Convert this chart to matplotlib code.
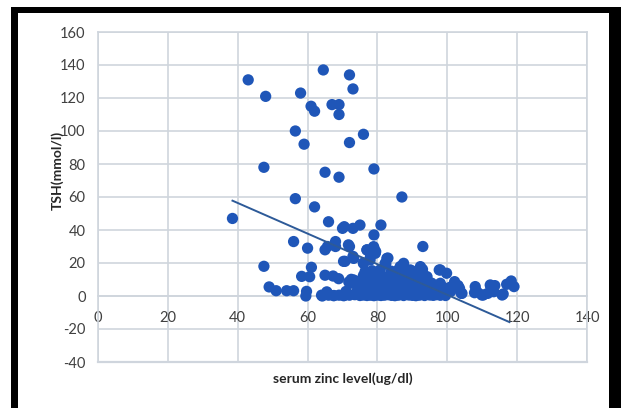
import matplotlib
matplotlib.use("Agg")
import matplotlib.pyplot as plt
from matplotlib.patches import Rectangle
import numpy as np

# ---- data (serum zinc level ug/dl, TSH mmol/l) ----
zinc_sparse = [43, 48, 47.5, 38.5, 47.5, 49, 64.5, 72, 73, 58, 61, 62, 67, 69, 69,
               56.5, 59, 76, 72, 65, 69, 79, 87, 56.5, 62, 66, 70, 70.5, 73, 75,
               81, 79, 56, 60, 65, 65.7, 68, 68, 72, 77, 79, 79.5, 93, 73, 70.3,
               70.7, 78, 76, 83, 82.4, 85.8, 87.4, 91.4, 92.9, 97.7, 99.8, 61.1,
               60.6, 58.3, 65, 67.3, 68.9, 72.5, 71.8, 51, 54, 56, 59.7, 59.5,
               64.2, 65.7, 67.5, 70.3]
tsh_sparse = [131, 121, 78, 47, 18, 5.5, 137, 134, 125.5, 123, 115, 112, 116, 116, 110,
              100, 92, 98, 93, 75, 72, 77, 60, 59, 54, 45, 41, 42, 41, 43,
              43, 37, 33, 29, 28, 30, 33, 30, 30, 28, 29, 27, 30, 24, 21,
              21, 24, 20, 23, 19.4, 15.4, 18.8, 15.2, 16.2, 15.8, 13.8, 17.4,
              11.7, 11.9, 12.6, 12.1, 10.5, 10.1, 8.5, 3.2, 3.2, 3.2, 2.8, 0,
              0, 1.6, 0.2, 0.2]

zinc_dense = [64, 66, 67.5, 69, 70.5, 72, 73.5, 75, 76, 77, 78, 79, 80, 81, 82, 83, 84, 85,
              86, 87.5, 89, 90, 91, 92, 93.5, 95, 96, 97, 98, 99.5,
              65.5, 71, 74, 75.5, 77.5, 79, 80.5, 82, 83.5, 85, 87, 88.5, 90, 91.5, 93,
              95, 96.5, 98.5, 100, 101,
              74.5, 76, 77.5, 78.5, 80, 81.5, 83, 84.5, 86, 88, 89.5, 91, 92.5, 94, 96,
              97.5, 99, 101,
              75, 76.5, 78, 79.5, 81, 82.5, 84, 86.5, 88, 90, 92, 94, 95.5, 98,
              75.5, 77, 79, 80.5, 82, 84, 87, 89, 91.5, 93,
              76, 78, 80, 81, 83.5, 86, 89.5, 92, 94.2,
              76.5, 78.5, 80.8, 84, 88, 90, 93,
              71.7, 77, 78.9, 79.4, 73.2, 76, 77.9, 82.7, 82.2, 87.5, 86.5, 89.4, 92.3,
              72.2, 73.2, 98, 94.2, 96.1, 99.9]
tsh_dense = [0.5, 0.5, 0.3, 0.5, 0.3, 0.5, 0.8, 0.3, 0.6, 0.3, 0.5, 0.2, 0.6, 0.3, 0.5, 0.8, 0.4, 0.2,
             0.5, 0.3, 0.6, 0.4, 0.2, 0.5, 0.3, 0.6, 0.4, 0.8, 0.6, 0.3,
             2.5, 2.8, 2.5, 3, 2.6, 3, 2.5, 2.8, 3, 2.6, 2.5, 3, 2.7, 2.5, 3,
             2.6, 2.8, 2.5, 2.6, 2.8,
             5, 5.2, 4.8, 5.5, 5, 5.3, 4.8, 5.2, 5, 5.5, 4.8, 5.2, 5, 5.3, 4.8,
             5.2, 5, 5.5,
             7.5, 7.8, 7.3, 7.6, 7.5, 7.8, 7.4, 7.6, 7.5, 7.3, 7.7, 7.5, 7.8, 7.7,
             10, 10.3, 9.8, 10.2, 10, 10.3, 9.8, 10.2, 10, 10.3,
             12.5, 12.8, 12.3, 12.6, 12.5, 12.8, 12.4, 12.6, 11.7,
             15, 15.3, 15.8, 15, 15.3, 15, 13.8,
             31, 27.9, 29.9, 25.9, 22.8, 19.8, 21.8, 22.8, 19.8, 19.8, 17.8, 15.8, 17.8,
             7.7, 9.7, 15.8, 3.6, 5.6, 2.6]

zinc_high = [103.5, 104, 102.1, 103.1, 108, 107.8, 110.3, 112.4, 113.6, 113.3, 111.6,
             116, 117, 118.3, 119.1, 102.8, 104.2, 98, 99.9, 109.9, 112.3, 115.7, 108.5]
tsh_high = [4.7, 1.6, 8.7, 6.3, 5.7, 2, 0.6, 6.1, 6.3, 2.6, 1.6,
            1.2, 7.1, 9.1, 5.7, 5.6, 1.6, 0.6, 2.6, 0.6, 6.7, 0.6, 2.6]

# linear trend line (slope, intercept) as shown in the chart
trend_slope = -0.928
trend_intercept = 93.5

x_ticks = [0, 20, 40, 60, 80, 100, 120, 140]
y_ticks = [-40, -20, 0, 20, 40, 60, 80, 100, 120, 140, 160]
x_label = "serum zinc level(ug/dl)"
y_label = "TSH(mmol/l)"

zinc = np.array(zinc_sparse + zinc_dense + zinc_high)
tsh = np.array(tsh_sparse + tsh_dense + tsh_high)

# ---- figure ----
plt.rcParams['font.family'] = ['Lato', 'DejaVu Sans']
plt.rcParams['axes.unicode_minus'] = False
fig = plt.figure(figsize=(6.21, 4.08), dpi=100)
fig.patch.set_facecolor('white')

W, H = 621, 408
def rect_px(x0, y0, x1, y1, color):
    fig.patches.append(Rectangle((x0 / W, 1 - y1 / H), (x1 - x0) / W, (y1 - y0) / H,
                                 transform=fig.transFigure, facecolor=color,
                                 edgecolor='none', zorder=0))
# black frame (left, top, right)
rect_px(11, 7, 18, 408, 'black')
rect_px(11, 7, 621, 13, 'black')
rect_px(609, 7, 621, 408, 'black')

ax = fig.add_axes([98 / W, 1 - 362 / H, (587 - 98) / W, (362 - 32) / H])
ax.set_xlim(x_ticks[0], x_ticks[-1])
ax.set_ylim(y_ticks[0], y_ticks[-1])
ax.set_xticks(x_ticks)
ax.set_yticks(y_ticks)
grid_col = '#CFD5DD'
ax.grid(True, color=grid_col, linewidth=1.2)
ax.set_axisbelow(True)
for s in ['left', 'right', 'top', 'bottom']:
    ax.spines[s].set_color(grid_col)
    ax.spines[s].set_linewidth(1.2)
ax.spines['bottom'].set_position(('data', 0))
ax.axhline(y_ticks[0], color=grid_col, linewidth=1.6, clip_on=False)
ax.tick_params(length=0, labelsize=10.5, colors='#404040')
ax.tick_params(axis='x', pad=11)
ax.tick_params(axis='y', pad=9)

ax.scatter(zinc, tsh, s=66, color='#1F56B8', edgecolors='none', zorder=3, clip_on=False)

tx = np.array([zinc.min(), zinc.max() - 1.3])
ax.plot(tx, trend_slope * tx + trend_intercept, color='#2D5A98', linewidth=1.4, zorder=4)

fig.text(343 / W, 1 - 379 / H, x_label, ha='center', va='center',
         fontsize=10, fontweight='bold', color='#262626')
fig.text(57 / W, 1 - 170 / H, y_label, ha='center', va='center', rotation=90,
         fontsize=10, fontweight='bold', color='#262626')

fig.savefig('out.png', dpi=100, facecolor='white')
